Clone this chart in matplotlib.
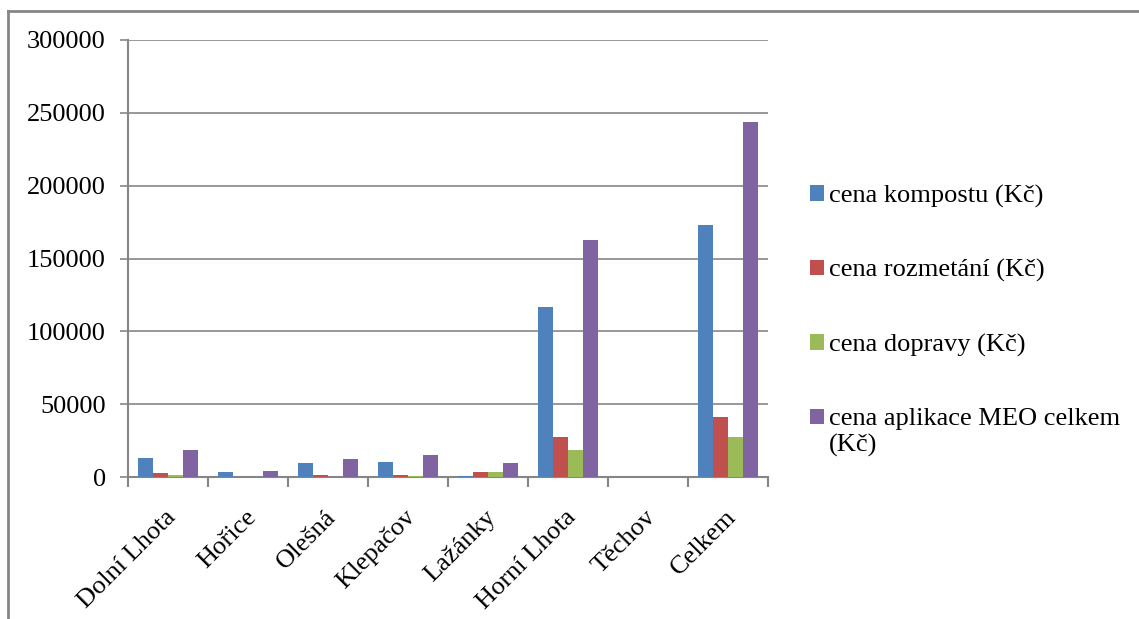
import numpy as np
import matplotlib
matplotlib.use("Agg")
import matplotlib.pyplot as plt
from matplotlib.lines import Line2D

plt.rcParams["font.family"] = ["Liberation Serif", "DejaVu Serif"]

# data
obce = ["Dolní Lhota", "Hořice", "Olešná", "Klepačov", "Lažánky",
        "Horní Lhota", "Těchov", "Celkem"]
serie_nazvy = ["cena kompostu (Kč)", "cena rozmetání (Kč)", "cena dopravy (Kč)",
               "cena aplikace MEO celkem\n(Kč)"]
cena_kompostu = [13200, 3600, 9800, 10500, 900, 116500, 0, 173300]
cena_rozmetani = [3000, 0, 1600, 1600, 3600, 27400, 0, 41100]
cena_dopravy = [1600, 0, 0, 900, 3600, 18500, 0, 27400]
cena_celkem = [18700, 4300, 12500, 15300, 9800, 163000, 0, 243900]
y_ticks = [0, 50000, 100000, 150000, 200000, 250000, 300000]

barvy = ["#4F81BD", "#C0504D", "#9BBB59", "#8064A2"]
SEDA = "#868686"
FS = 19

W, H = 1139, 619
fig = plt.figure(figsize=(W / 100, H / 100), dpi=100)
ax = fig.add_axes([128 / W, 1 - 477 / H, 640 / W, 437 / H])

x = np.arange(len(obce))
sirka = 0.185
data = [cena_kompostu, cena_rozmetani, cena_dopravy, cena_celkem]
for i, (vals, nazev, barva) in enumerate(zip(data, serie_nazvy, barvy)):
    ax.bar(x + (i - 1.5) * sirka, vals, width=sirka, color=barva,
           label=nazev, zorder=3)

ax.set_xlim(-0.5, len(obce) - 0.5)
ax.set_ylim(0, 300000)
ax.set_yticks(y_ticks)
ax.set_yticklabels([str(v) for v in y_ticks], fontsize=FS)
ax.yaxis.grid(True, color=SEDA, linewidth=1.2, zorder=0)

ax.set_xticks(x - 0.04)
ax.set_xticklabels(obce, fontsize=FS, rotation=45, ha="right",
                   rotation_mode="anchor")
ax.set_xticks(np.arange(len(obce) + 1) - 0.5, minor=True)
ax.tick_params(axis="x", which="major", length=0, pad=21)
ax.tick_params(axis="x", which="minor", length=7, color=SEDA, width=1.5)
ax.tick_params(axis="y", length=6, color=SEDA, width=1.2, pad=10)

for s in ["top", "right"]:
    ax.spines[s].set_visible(False)
for s in ["left", "bottom"]:
    ax.spines[s].set_color(SEDA)
    ax.spines[s].set_linewidth(1.5)

leg = fig.legend(loc="upper left", bbox_to_anchor=(786 / W, 1 - 161 / H),
                 frameon=False, fontsize=FS, labelspacing=1.95,
                 handlelength=0.53, handleheight=0.53, handletextpad=0.2)
# znacka posledni polozky zarovnana k prvnimu radku textu
h4 = leg.legend_handles[3]
h4.set_y(h4.get_y() + 11)

# ramecek grafu (horni a leva hrana)
fig.add_artist(Line2D([8 / W, 1], [1 - 11 / H, 1 - 11 / H], color=SEDA, linewidth=2))
fig.add_artist(Line2D([8 / W, 8 / W], [0, 1 - 11 / H], color=SEDA, linewidth=2))

fig.savefig("out.png", dpi=100)
